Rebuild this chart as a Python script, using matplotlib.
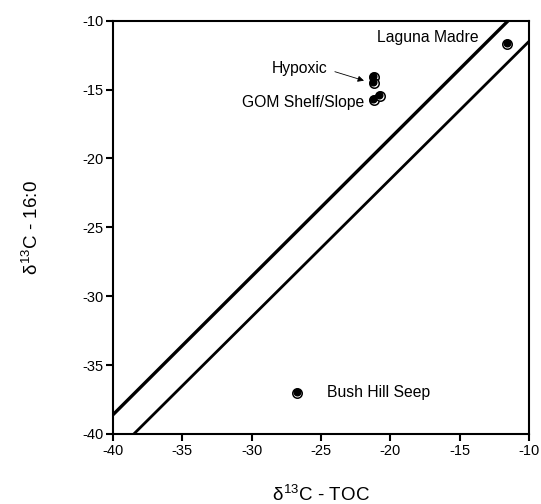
import matplotlib
matplotlib.use("Agg")
import matplotlib.pyplot as plt

# ---------- data ----------
# fractionation lines, endpoints
upper_x = [-40.0, -11.5]
upper_y = [-38.6, -10.0]
lower_x = [-38.5, -10.0]
lower_y = [-40.0, -11.5]

# sample points: filled symbol and its replicate (open symbol)
filled_x = [-11.62, -21.22, -21.22, -21.25, -20.82, -26.75]
filled_y = [-11.62, -13.98, -14.42, -15.68, -15.38, -36.93]
open_x = [-11.55, -21.17, -21.17, -21.18, -20.75, -26.70]
open_y = [-11.70, -14.06, -14.50, -15.76, -15.46, -37.00]

labels = ["Laguna Madre", "Hypoxic", "GOM Shelf/Slope", "Bush Hill Seep"]
label_x = [-20.95, -28.55, -30.7, -24.55]
label_y = [-11.2, -13.5, -15.95, -37.0]

ticks = [-40, -35, -30, -25, -20, -15, -10]

# ---------- style ----------
plt.rcParams['font.family'] = 'Liberation Sans'
plt.rcParams['axes.unicode_minus'] = False
plt.rcParams['mathtext.fontset'] = 'custom'
plt.rcParams['mathtext.rm'] = 'Liberation Sans'
plt.rcParams['mathtext.it'] = 'Liberation Sans'

fig = plt.figure(figsize=(5.41, 5.04), dpi=100)
ax = fig.add_axes([0.2089, 0.1389, 0.7689, 0.8200])

# lines
ax.plot(upper_x, upper_y, color='black', lw=2.4, solid_capstyle='butt')
ax.plot(lower_x, lower_y, color='black', lw=2.0, solid_capstyle='butt')

# points
ax.plot(open_x, open_y, 'o', ms=6.8, mfc='white', mec='black', mew=1.1, ls='none')
ax.plot(filled_x, filled_y, 'o', ms=4.8, mfc='black', mec='black', ls='none')

# labels
for t, x, y in zip(labels, label_x, label_y):
    ax.text(x, y, t, fontsize=11.3, ha='left', va='center')

ax.annotate("", xy=(-21.9, -14.35), xytext=(-24.0, -13.7),
            arrowprops=dict(arrowstyle='-|>', color='black', lw=0.6,
                            mutation_scale=9, shrinkA=0, shrinkB=0))

ax.set_xlim(-40, -10)
ax.set_ylim(-40, -10)
ax.set_xticks(ticks)
ax.set_yticks(ticks)
ax.tick_params(direction='out', length=5, width=1.5, labelsize=10.5, pad=2)

for sp in ax.spines.values():
    sp.set_linewidth(1.5)

ax.set_xlabel(r"$\delta^{13}$C - TOC", fontsize=13.5)
ax.set_ylabel(r"$\delta^{13}$C - 16:0", fontsize=13.5)
ax.xaxis.set_label_coords(0.5, -0.122)
ax.yaxis.set_label_coords(-0.17, 0.5)

fig.savefig("out.png", dpi=100)
